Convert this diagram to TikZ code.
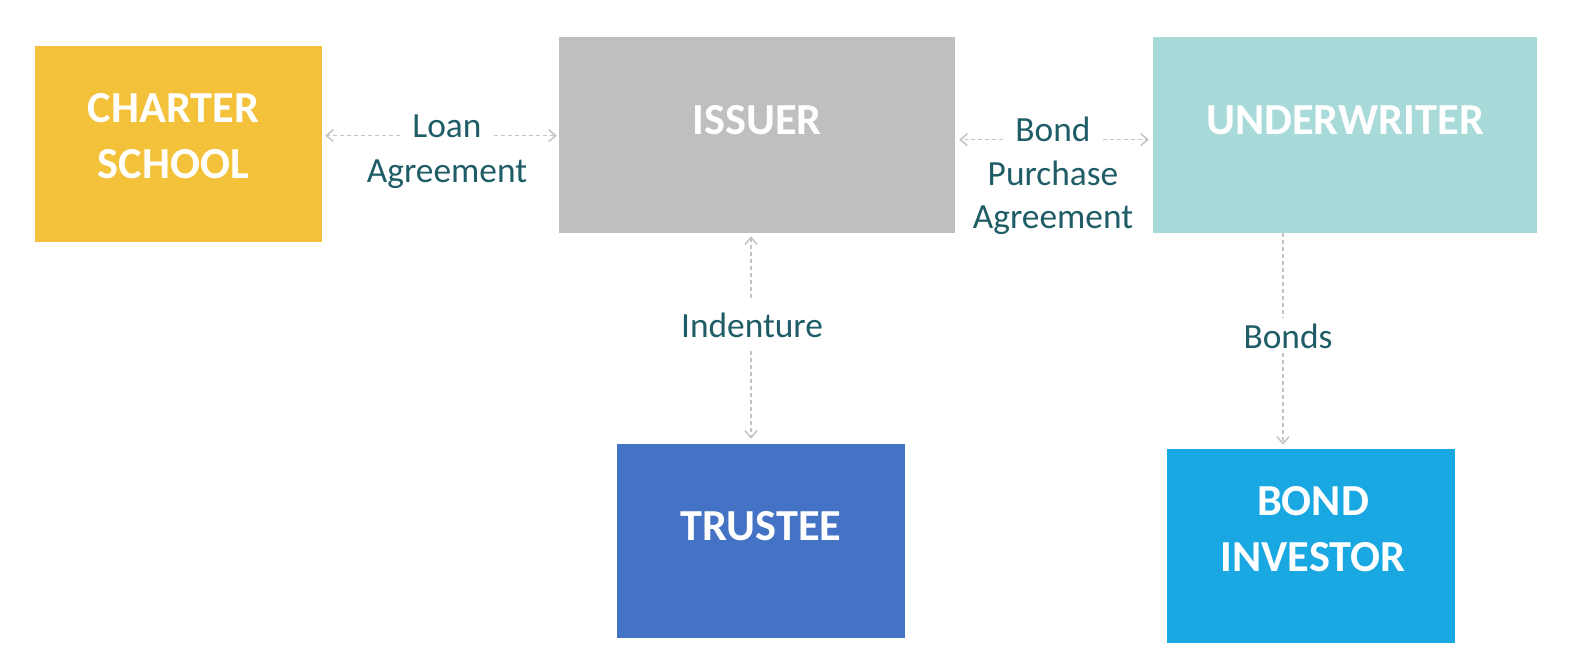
\documentclass[tikz,border=0pt]{standalone}
\usepackage{fontspec}
\setmainfont{Carlito}
\usetikzlibrary{arrows.meta,calc}
\definecolor{cschool}{HTML}{F3C13A}
\definecolor{cissuer}{HTML}{BDBFC1}
\definecolor{cunder}{HTML}{A9DADA}
\definecolor{ctrust}{HTML}{4472C4}
\definecolor{cinvest}{HTML}{1AA8E2}
\definecolor{clabel}{HTML}{1E5C66}
\definecolor{cline}{HTML}{C4C4C4}
\tikzset{
  ent/.style={fill=#1, draw=none, inner sep=0pt},
  boxtxt/.style={text=white, font=\fontsize{44.5}{56}\selectfont\bfseries, align=center, inner sep=0pt},
  lbl/.style={text=clabel, font=\fontsize{35.5}{43}\selectfont, align=center, inner sep=4bp, anchor=base},
  link/.style={draw=cline, line width=1.5bp, dash pattern=on 4bp off 3bp},
  tip/.style={-{Straight Barb[length=7bp,width=12bp,line width=1.5bp]}}
}
\begin{document}
\begin{tikzpicture}[x=1bp,y=-1bp]
\useasboundingbox (0,0) rectangle (1578,660);
\node[ent=cschool, minimum width=287bp, minimum height=196bp,
  label={[boxtxt,xshift=-5bp,yshift=8bp]center:{CHARTER\\SCHOOL}}] (school) at (178.5,144) {};
\node[ent=cissuer, minimum width=396bp, minimum height=196bp,
  label={[boxtxt,yshift=15bp]center:ISSUER}] (issuer) at (757,135) {};
\node[ent=cunder, minimum width=384bp, minimum height=196bp,
  label={[boxtxt,yshift=15bp]center:UNDERWRITER}] (under) at (1345,135) {};
\node[ent=ctrust, minimum width=288bp, minimum height=194bp,
  label={[boxtxt,yshift=14.5bp]center:TRUSTEE}] (trustee) at (761,541) {};
\node[ent=cinvest, minimum width=288bp, minimum height=194bp,
  label={[boxtxt,xshift=2bp,yshift=17bp]center:{BOND\\INVESTOR}}] (invest) at (1311,546) {};

\node[lbl] (loan) at (447,138) {Loan};
\node[lbl] (loan2) at (447,182) {Agreement};
\node[lbl] (bond) at (1053,142) {Bond};
\node[lbl] (bond2) at (1053,185) {Purchase};
\node[lbl] (bond3) at (1053,228) {Agreement};
\node[lbl] (indent) at (752,337) {Indenture};
\node[lbl] (bonds) at (1288,348) {Bonds};

\draw[link,tip,shorten <=8bp,shorten >=3bp] (loan.mid west) -- (loan.mid west -| school.east);
\draw[link,tip,shorten <=8bp,shorten >=2bp] (loan.mid east) -- (loan.mid east -| issuer.west);
\draw[link,tip,shorten <=8bp,shorten >=4bp] (bond.mid west) -- (bond.mid west -| issuer.east);
\draw[link,tip,shorten <=8bp,shorten >=4bp] (bond.mid east) -- (bond.mid east -| under.west);
\coordinate (ix) at (751,0);
\draw[link,tip,shorten <=10bp,shorten >=3bp] (ix |- indent.north) -- (ix |- issuer.south);
\draw[link,tip,shorten <=10bp,shorten >=5bp] (ix |- indent.south) -- (ix |- trustee.north);
\coordinate (bx) at (1283,0);
\draw[link,shorten >=1bp] (bx |- under.south) -- (bx |- bonds.north);
\draw[link,tip,shorten <=1bp,shorten >=4bp] (bx |- bonds.south) -- (bx |- invest.north);
\end{tikzpicture}
\end{document}
